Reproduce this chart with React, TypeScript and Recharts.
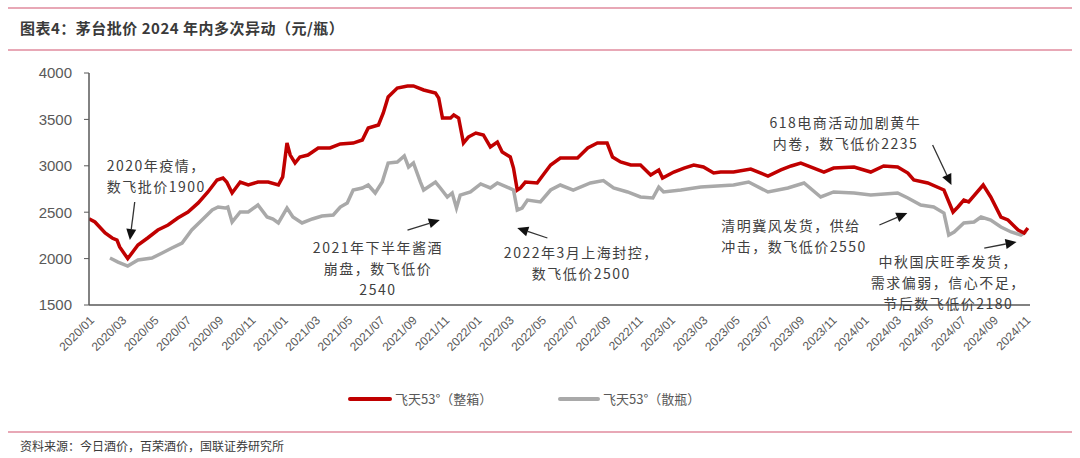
import { LineChart, Line, XAxis, YAxis, ReferenceLine, ReferenceDot } from 'recharts'

// 飞天53°（整箱）批价，按日期读取
const boxPrices: [string, number][] = [
  ['2020-01-01', 2430], ['2020-01-12', 2395], ['2020-02-01', 2276], ['2020-02-14', 2222],
  ['2020-02-23', 2200], ['2020-02-28', 2125], ['2020-03-13', 2000], ['2020-04-02', 2146],
  ['2020-04-20', 2222], ['2020-05-09', 2308], ['2020-05-28', 2362], ['2020-06-16', 2437],
  ['2020-07-05', 2502], ['2020-07-24', 2600], ['2020-08-12', 2718], ['2020-08-29', 2847],
  ['2020-09-10', 2868], ['2020-09-17', 2825], ['2020-09-27', 2707], ['2020-10-12', 2825],
  ['2020-10-27', 2793], ['2020-11-15', 2825], ['2020-12-04', 2825], ['2020-12-23', 2793],
  ['2020-12-31', 2880], ['2021-01-09', 3245], ['2021-01-15', 3116], ['2021-01-24', 3030],
  ['2021-02-03', 3095], ['2021-02-18', 3116], ['2021-03-07', 3192], ['2021-03-29', 3192],
  ['2021-04-18', 3235], ['2021-05-12', 3245], ['2021-05-29', 3278], ['2021-06-10', 3407],
  ['2021-06-29', 3440], ['2021-07-08', 3569], ['2021-07-17', 3741], ['2021-08-04', 3838],
  ['2021-08-23', 3860], ['2021-09-04', 3860], ['2021-09-23', 3817], ['2021-10-15', 3784],
  ['2021-10-21', 3730], ['2021-10-28', 3515], ['2021-11-13', 3515], ['2021-11-19', 3547],
  ['2021-11-28', 3515], ['2021-12-07', 3245], ['2021-12-16', 3310], ['2021-12-30', 3353],
  ['2022-01-14', 3332], ['2022-01-27', 3203], ['2022-02-10', 3256], ['2022-02-19', 3149],
  ['2022-03-04', 3095], ['2022-03-10', 2976], ['2022-03-17', 2739], ['2022-03-23', 2761],
  ['2022-04-02', 2825], ['2022-04-24', 2815], ['2022-05-05', 2901], ['2022-05-19', 3009],
  ['2022-06-07', 3084], ['2022-07-09', 3084], ['2022-07-28', 3192], ['2022-08-16', 3245],
  ['2022-09-04', 3245], ['2022-09-14', 3095], ['2022-09-29', 3041], ['2022-10-18', 3009],
  ['2022-11-06', 3009], ['2022-11-25', 2901], ['2022-12-10', 2955], ['2022-12-17', 2868],
  ['2023-01-08', 2933], ['2023-01-27', 2976], ['2023-02-15', 3009], ['2023-03-03', 2987],
  ['2023-03-22', 2922], ['2023-04-05', 2933], ['2023-04-29', 2933], ['2023-06-01', 2965],
  ['2023-07-03', 2890], ['2023-07-27', 2955], ['2023-08-16', 2998], ['2023-09-04', 3030],
  ['2023-09-28', 2976], ['2023-10-17', 2933], ['2023-11-05', 2976], ['2023-12-13', 2987],
  ['2024-01-14', 2933], ['2024-02-08', 2998], ['2024-03-04', 2987], ['2024-03-23', 2922],
  ['2024-04-04', 2847], ['2024-04-30', 2815], ['2024-05-30', 2739], ['2024-06-17', 2502],
  ['2024-06-26', 2556], ['2024-07-07', 2631], ['2024-07-16', 2610], ['2024-08-13', 2793],
  ['2024-08-27', 2664], ['2024-09-16', 2448], ['2024-09-29', 2416], ['2024-10-18', 2308],
  ['2024-10-29', 2276], ['2024-11-06', 2330],
]

// 飞天53°（散瓶）批价
const bottlePrices: [string, number][] = [
  ['2020-02-10', 2006], ['2020-02-25', 1963], ['2020-03-13', 1920], ['2020-04-02', 1985],
  ['2020-04-28', 2006], ['2020-05-17', 2060], ['2020-06-05', 2114], ['2020-06-24', 2168],
  ['2020-07-12', 2308], ['2020-08-01', 2416], ['2020-08-20', 2524], ['2020-09-01', 2556],
  ['2020-09-14', 2545], ['2020-09-19', 2556], ['2020-09-27', 2394], ['2020-10-12', 2502],
  ['2020-10-27', 2502], ['2020-11-15', 2578], ['2020-12-02', 2448], ['2020-12-13', 2427],
  ['2020-12-23', 2384], ['2021-01-09', 2545], ['2021-01-20', 2448], ['2021-02-07', 2384],
  ['2021-02-26', 2427], ['2021-03-14', 2459], ['2021-04-05', 2470], ['2021-04-18', 2556],
  ['2021-05-01', 2600], ['2021-05-12', 2739], ['2021-05-29', 2761], ['2021-06-10', 2793],
  ['2021-06-23', 2707], ['2021-07-06', 2825], ['2021-07-17', 3030], ['2021-08-04', 3041],
  ['2021-08-17', 3106], ['2021-08-25', 2987], ['2021-09-04', 3030], ['2021-09-17', 2825],
  ['2021-09-23', 2739], ['2021-10-15', 2825], ['2021-10-24', 2761], ['2021-11-07', 2664],
  ['2021-11-16', 2707], ['2021-11-24', 2545], ['2021-12-01', 2685], ['2021-12-20', 2718],
  ['2022-01-09', 2804], ['2022-01-27', 2761], ['2022-02-10', 2815], ['2022-02-28', 2771],
  ['2022-03-10', 2739], ['2022-03-17', 2524], ['2022-03-26', 2545], ['2022-04-06', 2631],
  ['2022-04-30', 2610], ['2022-05-19', 2739], ['2022-06-07', 2793], ['2022-07-01', 2739],
  ['2022-08-03', 2815], ['2022-08-27', 2840], ['2022-09-16', 2761], ['2022-10-12', 2718],
  ['2022-11-06', 2664], ['2022-11-29', 2653], ['2022-12-10', 2771], ['2022-12-19', 2718],
  ['2023-01-21', 2739], ['2023-02-28', 2771], ['2023-04-29', 2793], ['2023-05-27', 2825],
  ['2023-07-03', 2718], ['2023-08-10', 2761], ['2023-09-10', 2815], ['2023-10-11', 2664],
  ['2023-11-05', 2718], ['2023-12-13', 2707], ['2024-01-14', 2685], ['2024-03-04', 2707],
  ['2024-03-23', 2653], ['2024-04-17', 2578], ['2024-05-11', 2556], ['2024-05-30', 2491],
  ['2024-06-09', 2254], ['2024-06-19', 2287], ['2024-07-07', 2384], ['2024-07-26', 2394],
  ['2024-08-09', 2448], ['2024-08-27', 2416], ['2024-09-16', 2341], ['2024-10-05', 2287],
  ['2024-10-23', 2254], ['2024-11-02', 2287],
]

const yTicks = [1500, 2000, 2500, 3000, 3500, 4000]
// 月份刻度：2020/01 起每两个月
const xTicks = Array.from({ length: 30 }, (_, i) => i * 2)

// 标注文字：[日期, 价格, 对齐, 行]
const notes: { at: [string, number]; anchor: 'start' | 'middle'; lines: string[] }[] = [
  { at: ['2020-02-04', 3009], anchor: 'start', lines: ['2020年疫情，', '数飞批价1900'] },
  { at: ['2021-06-28', 2125], anchor: 'middle', lines: ['2021年下半年酱酒', '崩盘，数飞低价', '2540'] },
  { at: ['2022-07-16', 2071], anchor: 'middle', lines: ['2022年3月上海封控，', '数飞低价2500'] },
  { at: ['2023-11-27', 3472], anchor: 'middle', lines: ['618电商活动加剧黄牛', '内卷，数飞低价2235'] },
  { at: ['2023-04-06', 2362], anchor: 'start', lines: ['清明冀风发货，供给', '冲击，数飞低价2550'] },
  { at: ['2024-06-08', 1974], anchor: 'middle', lines: ['中秋国庆旺季发货，', '需求偏弱，信心不足，', '节后数飞低价2180'] },
]

// 箭头：起点 -> 终点
const arrows: [string, number, string, number][] = [
  ['2020-03-26', 2610, '2020-03-17', 2200],
  ['2021-08-23', 2308, '2021-10-23', 2416],
  ['2022-05-13', 2222, '2022-03-17', 2330],
  ['2024-05-09', 3224, '2024-06-14', 2793],
  ['2024-01-30', 2362, '2024-03-22', 2491],
  ['2024-08-15', 2114, '2024-10-15', 2179],
]

const toMonth = (d: string) => {
  const [y, m, day] = d.split('-').map(Number)
  return (y - 2020) * 12 + (m - 1) + (day - 1) / 30
}

const boxData = boxPrices.map(([d, v]) => ({ m: toMonth(d), v }))
const bottleData = bottlePrices.map(([d, v]) => ({ m: toMonth(d), v }))

const monthLabel = (m: number) => {
  const y = 2020 + Math.floor(m / 12)
  const mo = (m % 12) + 1
  return `${y}/${String(mo).padStart(2, '0')}`
}

const CJK = '"Noto Sans CJK SC", "Noto Sans", sans-serif'
const NUM = '"Liberation Sans", Arial, sans-serif'

function ArrowShape(props: any) {
  const { x1, y1, x2, y2 } = props
  if ([x1, y1, x2, y2].some((n) => typeof n !== 'number')) return null
  const ang = Math.atan2(y2 - y1, x2 - x1)
  const len = 11
  const w = 5
  const bx = x2 - len * Math.cos(ang)
  const by = y2 - len * Math.sin(ang)
  const px = -Math.sin(ang) * w
  const py = Math.cos(ang) * w
  return (
    <g>
      <line x1={x1} y1={y1} x2={bx} y2={by} stroke="#333" strokeWidth={1.3} />
      <polygon points={`${x2},${y2} ${bx + px},${by + py} ${bx - px},${by - py}`} fill="#111" />
    </g>
  )
}

export default function App() {
  return (
    <div style={{ position: 'absolute', left: 0, top: 0, width: 1080, height: 458, background: '#fff', overflow: 'hidden' }}>
      <div style={{ position: 'absolute', left: 8, top: 7, width: 1064, height: 2, background: '#e8a8b6' }} />
      <div style={{ position: 'absolute', left: 20, top: 17, fontFamily: CJK, fontWeight: 700, fontSize: 15, color: '#3a3a3a', letterSpacing: 0.5, lineHeight: '22px' }}>
        图表4：茅台批价 2024 年内多次异动（元/瓶）
      </div>
      <div style={{ position: 'absolute', left: 8, top: 49, width: 1064, height: 2, background: '#e8a8b6' }} />

      <div style={{ position: 'absolute', left: 0, top: 0 }}>
        <LineChart width={1080} height={458} margin={{ top: 73, right: 50, left: 0, bottom: 0 }}>
          <XAxis
            type="number"
            dataKey="m"
            domain={[0, 58.3]}
            ticks={xTicks}
            tickFormatter={monthLabel}
            height={153}
            interval={0}
            angle={-45}
            textAnchor="end"
            tickLine={false}
            tickSize={0}
            tickMargin={10}
            axisLine={{ stroke: '#595959', strokeWidth: 1.5 }}
            tick={{ fontSize: 12, fill: '#595959', fontFamily: NUM }}
            allowDataOverflow
          />
          <YAxis
            type="number"
            dataKey="v"
            domain={[1500, 4000]}
            ticks={yTicks}
            width={89}
            tickSize={5}
            tickMargin={12}
            axisLine={{ stroke: '#595959', strokeWidth: 1.5 }}
            tickLine={{ stroke: '#595959' }}
            tick={{ fontSize: 15, fill: '#595959', fontFamily: NUM }}
            allowDataOverflow
          />
          <Line data={bottleData} dataKey="v" type="linear" stroke="#a9a9a9" strokeWidth={3.5} dot={false} isAnimationActive={false} />
          <Line data={boxData} dataKey="v" type="linear" stroke="#c00000" strokeWidth={3.5} dot={false} isAnimationActive={false} />
          {arrows.map(([d1, v1, d2, v2], i) => (
            <ReferenceLine
              key={`a${i}`}
              segment={[{ x: toMonth(d1), y: v1 }, { x: toMonth(d2), y: v2 }]}
              ifOverflow="visible"
              shape={ArrowShape}
            />
          ))}
          {notes.map((n, i) => (
            <ReferenceDot
              key={`n${i}`}
              x={toMonth(n.at[0])}
              y={n.at[1]}
              r={0}
              ifOverflow="visible"
              shape={(p: any) => (
                <text
                  x={p.cx}
                  y={p.cy}
                  textAnchor={n.anchor}
                  fontFamily={CJK}
                  fontSize={14}
                  letterSpacing={1.5}
                  fill="#404040"
                >
                  {n.lines.map((line, j) => (
                    <tspan key={j} x={p.cx} y={p.cy + j * 21} dominantBaseline="central">
                      {line}
                    </tspan>
                  ))}
                </text>
              )}
            />
          ))}
        </LineChart>
      </div>

      <div style={{ position: 'absolute', left: 348, top: 397, width: 44, height: 4, background: '#c00000', borderRadius: 2 }} />
      <div style={{ position: 'absolute', left: 395, top: 389, fontFamily: CJK, fontSize: 13, color: '#595959', lineHeight: '20px' }}>
        飞天53°（整箱）
      </div>
      <div style={{ position: 'absolute', left: 558, top: 397, width: 42, height: 4, background: '#a9a9a9', borderRadius: 2 }} />
      <div style={{ position: 'absolute', left: 603, top: 389, fontFamily: CJK, fontSize: 13, color: '#595959', lineHeight: '20px' }}>
        飞天53°（散瓶）
      </div>

      <div style={{ position: 'absolute', left: 8, top: 431, width: 1064, height: 2, background: '#e8a8b6' }} />
      <div style={{ position: 'absolute', left: 20, top: 437, fontFamily: CJK, fontSize: 12, color: '#3a3a3a', lineHeight: '18px' }}>
        资料来源：今日酒价，百荣酒价，国联证券研究所
      </div>
    </div>
  )
}
